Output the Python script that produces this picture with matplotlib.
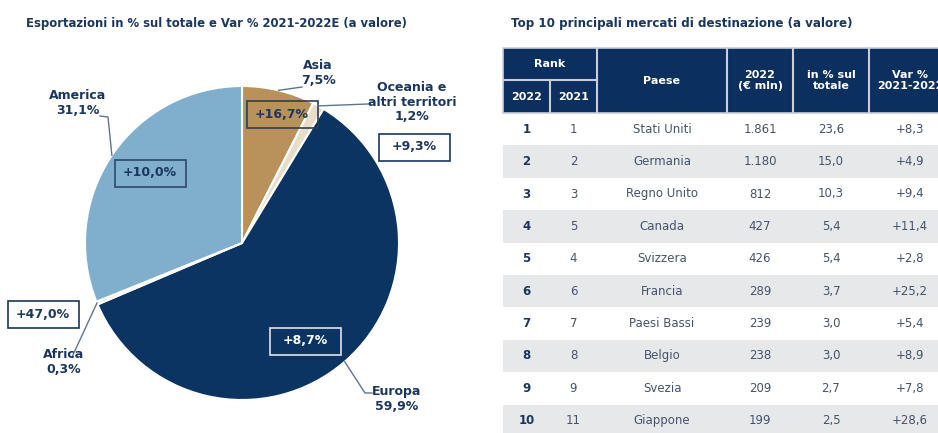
import numpy as np
import matplotlib
matplotlib.use('Agg')
import matplotlib.pyplot as plt
from matplotlib.patches import Rectangle

# --- pie data ---
regions = ['Asia', 'Oceania e\naltri territori', 'Europa', 'Africa', 'America']
shares = [7.5, 1.2, 59.9, 0.3, 31.1]
var_regions = [16.7, 9.3, 8.7, 47.0, 10.0]
colors = ['#B8925A', '#E6DEC8', '#0B3463', '#D9D9D9', '#7FAFCD']

# --- table data ---
rank_2022 = [1, 2, 3, 4, 5, 6, 7, 8, 9, 10]
rank_2021 = [1, 2, 3, 5, 4, 6, 7, 8, 9, 11]
paesi = ['Stati Uniti', 'Germania', 'Regno Unito', 'Canada', 'Svizzera',
         'Francia', 'Paesi Bassi', 'Belgio', 'Svezia', 'Giappone']
valori = [1861, 1180, 812, 427, 426, 289, 239, 238, 209, 199]
quota = [23.6, 15.0, 10.3, 5.4, 5.4, 3.7, 3.0, 3.0, 2.7, 2.5]
var_paesi = [8.3, 4.9, 9.4, 11.4, 2.8, 25.2, 5.4, 8.9, 7.8, 28.6]

NAVY = '#1B365F'
GREY_TXT = '#43536F'
W, H = 938, 433


def it(x, d=1):
    return f"{x:.{d}f}".replace('.', ',')


def thousands(x):
    return f"{x:,}".replace(',', '.')


fig = plt.figure(figsize=(W / 100, H / 100), dpi=100, facecolor='white')

# pie placed by its centre and radius in pixels
cx, cy, R = 242, 243, 157
ax_pie = fig.add_axes([(cx - R) / W, (H - cy - R) / H, 2 * R / W, 2 * R / H])
wedges, _ = ax_pie.pie(shares, colors=colors, startangle=90, counterclock=False,
                       radius=1, wedgeprops=dict(edgecolor='white', linewidth=1.5))
ax_pie.set_xlim(-1, 1)
ax_pie.set_ylim(-1, 1)
ax_pie.axis('off')

# overlay in pixel coordinates
ax = fig.add_axes([0, 0, 1, 1])
ax.set_xlim(0, W)
ax.set_ylim(H, 0)
ax.axis('off')

ax.text(26, 24, 'Esportazioni in % sul totale e Var % 2021-2022E (a valore)',
        fontsize=8.4, fontweight='bold', color=NAVY, va='center', ha='left')
ax.text(511, 24, 'Top 10 principali mercati di destinazione (a valore)',
        fontsize=8.6, fontweight='bold', color=NAVY, va='center', ha='left')

# labels, leader ends, value boxes (layout)
label_pos = [(318, 73), (412, 102), (397, 399), (64, 362), (78, 103)]
leader_pts = [[(302, 87)], [(368, 104)], [(365, 393), (372, 393)],
              [(72, 357)], [(108, 117), (100, 116)]]
box_pos = [(282, 114), (414, 147), (305, 341), (43, 314), (150, 173)]
box_style = [  # face, edge, text
    ('none', '#2E3E52', NAVY),
    ('white', NAVY, NAVY),
    ('none', '#E0E4EA', 'white'),
    ('white', NAVY, NAVY),
    ('none', '#2E4A6A', NAVY),
]

for w, name, sh, lp, pts, v, bp, st in zip(wedges, regions, shares, label_pos,
                                           leader_pts, var_regions, box_pos, box_style):
    mid = np.deg2rad((w.theta1 + w.theta2) / 2)
    ex, ey = cx + R * np.cos(mid), cy - R * np.sin(mid)
    xs = [ex] + [p[0] for p in pts]
    ys = [ey] + [p[1] for p in pts]
    ax.plot(xs, ys, color='#5F7490', lw=1)
    ax.text(lp[0], lp[1], f"{name}\n{it(sh)}%", fontsize=9, fontweight='bold',
            color=NAVY, ha='center', va='center', linespacing=1.15)
    bw, bh = 71, 27
    ax.add_patch(Rectangle((bp[0] - bw / 2, bp[1] - bh / 2), bw, bh,
                           facecolor=st[0], edgecolor=st[1], lw=1.2))
    ax.text(bp[0], bp[1], f"+{it(v)}%", fontsize=9, fontweight='bold',
            color=st[2], ha='center', va='center')

# --- table ---
col_edges = [503, 550, 597, 727, 793, 869, 960]
col_mid = [(a + b) / 2 for a, b in zip(col_edges[:-1], col_edges[1:])]
head_top, head_mid, head_bot = 48, 80, 113
row_h = 32.4
HEAD_BG = '#0B2F5E'

ax.add_patch(Rectangle((col_edges[0], head_top), col_edges[-1] - col_edges[0],
                       head_bot - head_top, facecolor=HEAD_BG, edgecolor='#C9CFD8', lw=1.2))
for x in col_edges[1:-1]:
    y0 = head_mid if x == col_edges[1] else head_top
    ax.plot([x, x], [y0, head_bot], color='#C9CFD8', lw=1.5)
ax.plot([col_edges[0], col_edges[2]], [head_mid, head_mid], color='#C9CFD8', lw=1.5)

hkw = dict(fontsize=8, fontweight='bold', color='white', ha='center', va='center',
           linespacing=1.2)
ax.text((col_edges[0] + col_edges[2]) / 2, (head_top + head_mid) / 2, 'Rank', **hkw)
ax.text(col_mid[0], (head_mid + head_bot) / 2, '2022', **hkw)
ax.text(col_mid[1], (head_mid + head_bot) / 2, '2021', **hkw)
headers = ['Paese', '2022\n(€ mln)', 'in % sul\ntotale', 'Var %\n2021-2022']
hx = [col_mid[2], col_mid[3], col_mid[4], 910]
for h, x in zip(headers, hx):
    ax.text(x, (head_top + head_bot) / 2, h, **hkw)

for i in range(len(paesi)):
    top = head_bot + i * row_h
    yc = top + row_h / 2
    if i % 2 == 1:
        ax.add_patch(Rectangle((col_edges[0], top), col_edges[-1] - col_edges[0],
                               row_h, facecolor='#E7E8EA', edgecolor='none'))
    ax.text(col_mid[0], yc, str(rank_2022[i]), fontsize=8.5, fontweight='bold',
            color=NAVY, ha='center', va='center')
    cells = [str(rank_2021[i]), paesi[i], thousands(valori[i]), it(quota[i]),
             '+' + it(var_paesi[i])]
    for txt, x in zip(cells, [col_mid[1], col_mid[2], col_mid[3], col_mid[4], 910]):
        ax.text(x, yc, txt, fontsize=8.5, color=GREY_TXT, ha='center', va='center')

fig.savefig('out.png', dpi=100, facecolor='white')
